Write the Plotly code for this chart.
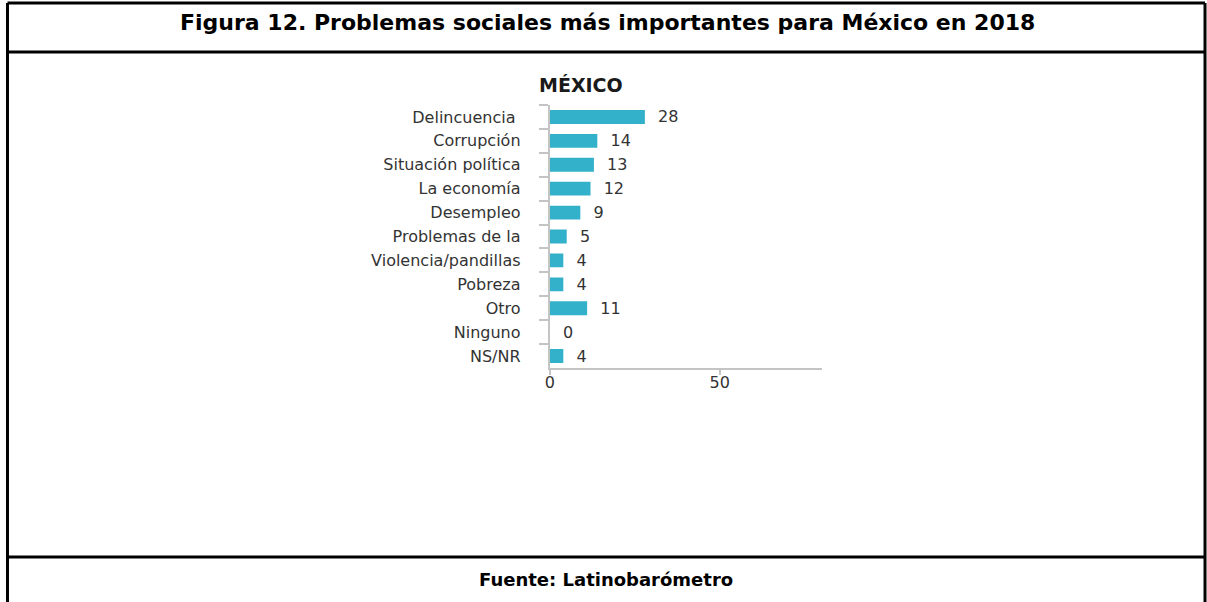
import plotly.graph_objects as go

categories = ["Delincuencia ", "Corrupción", "Situación política", "La economía", "Desempleo",
              "Problemas de la", "Violencia/pandillas", "Pobreza", "Otro", "Ninguno", "NS/NR"]
values = [28, 14, 13, 12, 9, 5, 4, 4, 11, 0, 4]
x_ticks = [0, 50]

W, H = 1207, 602
def px(x): return x / W
def py(y): return 1 - y / H

fig = go.Figure()
fig.add_trace(go.Bar(
    x=values, y=categories, orientation="h",
    marker=dict(color="#33b0ca", line=dict(width=0)),
    text=values, texttemplate="\u00a0\u00a0%{x}", textposition="outside",
    constraintext="none", cliponaxis=False,
    textfont=dict(family="DejaVu Sans", size=16, color="#333333"),
    hoverinfo="skip",
))

axis_col = "#c4c4c4"
fig.update_layout(
    width=W, height=H, margin=dict(l=0, r=0, t=0, b=0),
    paper_bgcolor="white", plot_bgcolor="white",
    showlegend=False, bargap=0.42,
    font=dict(family="DejaVu Sans", size=16, color="#333333"),
    xaxis=dict(domain=[px(547), px(820)], range=[0, 80], tickvals=x_ticks,
               showgrid=False, zeroline=False, showline=True, linecolor=axis_col, linewidth=2,
               ticks="outside", ticklen=5, tickwidth=2, tickcolor=axis_col,
               ticklabelstandoff=-6,
               tickfont=dict(family="DejaVu Sans", size=16, color="#333333"), fixedrange=True),
    yaxis=dict(domain=[py(368), py(105)], type="category", autorange="reversed",
               showgrid=False, zeroline=False, showline=True, linecolor=axis_col, linewidth=2,
               ticks="outside", tickson="boundaries", ticklen=9, tickwidth=2, tickcolor=axis_col,
               ticklabelstandoff=24,
               tickfont=dict(family="DejaVu Sans", size=16, color="#333333"), fixedrange=True),
)

# frame lines
lw = 3
frame = [
    (2.5, 3, 1205, 3), (2.5, 3, 2.5, 605), (1205, 3, 1205, 605),
    (2.5, 52, 1205, 52), (2.5, 557, 1205, 557),
]
for x0, y0, x1, y1 in frame:
    fig.add_shape(type="line", xref="paper", yref="paper",
                  x0=px(x0), y0=py(y0), x1=px(x1), y1=py(y1),
                  line=dict(color="black", width=lw))

fig.add_annotation(text="<b>Figura 12. Problemas sociales más importantes para México en 2018</b>",
                   xref="paper", yref="paper", x=px(605), y=py(22), showarrow=False,
                   xanchor="center", yanchor="middle",
                   font=dict(family="DejaVu Sans", size=22, color="black"))
fig.add_annotation(text="<b>MÉXICO</b>",
                   xref="paper", yref="paper", x=px(578), y=py(85), showarrow=False,
                   xanchor="center", yanchor="middle",
                   font=dict(family="DejaVu Sans", size=19, color="#1a1a1a"))
fig.add_annotation(text="<b>Fuente: Latinobarómetro</b>",
                   xref="paper", yref="paper", x=px(603), y=py(579), showarrow=False,
                   xanchor="center", yanchor="middle",
                   font=dict(family="DejaVu Sans", size=18, color="black"))

fig.write_html("out.html", config=dict(displayModeBar=False))
